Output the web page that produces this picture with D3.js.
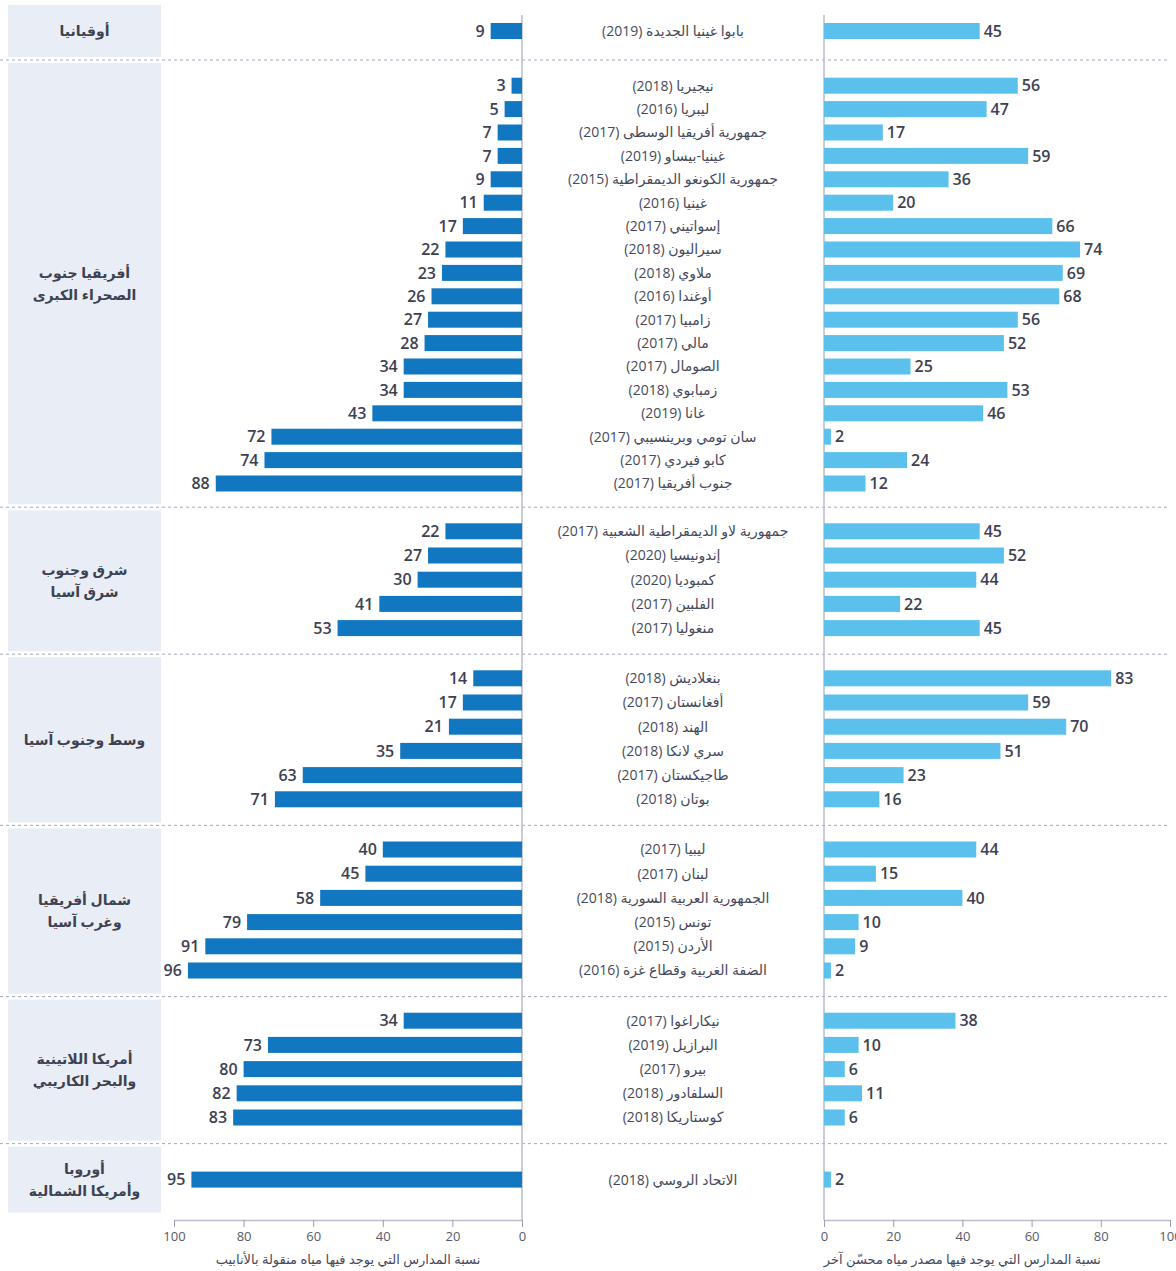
<!DOCTYPE html>
<html>
<head>
<meta charset="utf-8">
<script src="https://cdn.jsdelivr.net/npm/d3@7/dist/d3.min.js"></script>
<style>
  html, body { margin: 0; padding: 0; background: #ffffff; }
  svg { display: block; font-family: "Open Sans", "DejaVu Sans", sans-serif; }
</style>
</head>
<body>
<svg id="chart" width="1176" height="1271"></svg>
<script>
// ---------- DATA ----------
const regions = [
  "أوقيانيا",
  "أفريقيا جنوب\nالصحراء الكبرى",
  "شرق وجنوب\nشرق آسيا",
  "وسط وجنوب آسيا",
  "شمال أفريقيا\nوغرب آسيا",
  "أمريكا اللاتينية\nوالبحر الكاريبي",
  "أوروبا\nوأمريكا الشمالية"
];
const regionSizes = [1, 18, 5, 6, 6, 5, 1];

const countries = [
  "بابوا غينيا الجديدة (2019)",
  "نيجيريا (2018)", "ليبريا (2016)", "جمهورية أفريقيا الوسطى (2017)", "غينيا-بيساو (2019)",
  "جمهورية الكونغو الديمقراطية (2015)", "غينيا (2016)", "إسواتيني (2017)", "سيراليون (2018)",
  "ملاوي (2018)", "أوغندا (2016)", "زامبيا (2017)", "مالي (2017)", "الصومال (2017)",
  "زمبابوي (2018)", "غانا (2019)", "سان تومي وبرينسيبي (2017)", "كابو فيردي (2017)", "جنوب أفريقيا (2017)",
  "جمهورية لاو الديمقراطية الشعبية (2017)", "إندونيسيا (2020)", "كمبوديا (2020)", "الفلبين (2017)", "منغوليا (2017)",
  "بنغلاديش (2018)", "أفغانستان (2017)", "الهند (2018)", "سري لانكا (2018)", "طاجيكستان (2017)", "بوتان (2018)",
  "ليبيا (2017)", "لبنان (2017)", "الجمهورية العربية السورية (2018)", "تونس (2015)", "الأردن (2015)", "الضفة الغربية وقطاع غزة (2016)",
  "نيكاراغوا (2017)", "البرازيل (2019)", "بيرو (2017)", "السلفادور (2018)", "كوستاريكا (2018)",
  "الاتحاد الروسي (2018)"
];

// % of schools with piped water (left panel)
const pipedWater = [
  9,
  3, 5, 7, 7, 9, 11, 17, 22, 23, 26, 27, 28, 34, 34, 43, 72, 74, 88,
  22, 27, 30, 41, 53,
  14, 17, 21, 35, 63, 71,
  40, 45, 58, 79, 91, 96,
  34, 73, 80, 82, 83,
  95
];
// % of schools with another improved water source (right panel)
const otherImproved = [
  45,
  56, 47, 17, 59, 36, 20, 66, 74, 69, 68, 56, 52, 25, 53, 46, 2, 24, 12,
  45, 52, 44, 22, 45,
  83, 59, 70, 51, 23, 16,
  44, 15, 40, 10, 9, 2,
  38, 10, 6, 11, 6,
  2
];

const tickValues = [0, 20, 40, 60, 80, 100];
const leftTitle = "نسبة المدارس التي يوجد فيها مياه منقولة بالأنابيب";
const rightTitle = "نسبة المدارس التي يوجد فيها مصدر مياه محسّن آخر";

// ---------- LAYOUT ----------
const svg = d3.select("#chart");
const pad = 10, gap = 6, barH = 16;
const boxX = 8, boxW = 153;
const topY = 5;
const axisY = 1220;

const xL = d3.scaleLinear().domain([0, 100]).range([522, 174]);
const xR = d3.scaleLinear().domain([0, 100]).range([824, 1170]);

const colLeft = "#1177c0", colRight = "#5bc0eb", textCol = "#3d4152";

// compute groups (large groups are drawn slightly more compact)
const groups = [];
let yCur = topY, idx = 0;
regions.forEach((r, g) => {
  const n = regionSizes[g];
  const step = n > 10 ? 23.4 : 24.2;
  const lines = r.split("\n");
  const h = Math.max(n * step + 2 * pad, 38 + 14 * lines.length);
  const inner = (h - n * step) / 2;
  const shift = n === 1 ? 0 : (n > 10 ? 1 : -1);
  const rows = d3.range(n).map(i => ({
    i: idx + i,
    y: yCur + inner + step * (i + 0.5) + shift
  }));
  groups.push({ label: lines, top: yCur, h, rows });
  idx += n;
  yCur += h + gap;
});
const rowsAll = groups.flatMap(g => g.rows);

// region boxes
const gBox = svg.append("g");
groups.forEach(g => {
  gBox.append("rect")
    .attr("x", boxX).attr("y", g.top).attr("width", boxW).attr("height", g.h)
    .attr("fill", "#e9edf5");
  const cy = g.top + g.h / 2;
  const lh = 22;
  const t = gBox.append("text")
    .attr("text-anchor", "middle")
    .attr("direction", "rtl")
    .attr("font-size", 14).attr("font-weight", "bold").attr("fill", textCol);
  g.label.forEach((ln, k) => {
    t.append("tspan")
      .attr("x", boxX + boxW / 2)
      .attr("y", cy + (k - (g.label.length - 1) / 2) * lh)
      .attr("dy", "0.35em")
      .text(ln);
  });
});

// dashed separators
groups.slice(1).forEach(g => {
  svg.append("line")
    .attr("x1", 0).attr("x2", 1170)
    .attr("y1", g.top - gap / 2).attr("y2", g.top - gap / 2)
    .attr("stroke", "#a4a6bd").attr("stroke-width", 1)
    .attr("stroke-dasharray", "3,3");
});

// vertical baselines
[xL(0), xR(0)].forEach(x => {
  svg.append("line")
    .attr("x1", x).attr("x2", x).attr("y1", 15).attr("y2", axisY)
    .attr("stroke", "#b8bccd").attr("stroke-width", 1.5);
});

// left bars
svg.append("g").selectAll("rect").data(rowsAll).join("rect")
  .attr("x", d => xL(pipedWater[d.i]))
  .attr("y", d => d.y - barH / 2)
  .attr("width", d => xL(0) - xL(pipedWater[d.i]))
  .attr("height", barH)
  .attr("fill", colLeft);

svg.append("g").selectAll("text").data(rowsAll).join("text")
  .attr("x", d => xL(pipedWater[d.i]) - 6)
  .attr("y", d => d.y)
  .attr("dy", "0.35em")
  .attr("text-anchor", "end")
  .attr("font-size", 16).attr("font-weight", 600).attr("fill", textCol)
  .text(d => pipedWater[d.i]);

// right bars
svg.append("g").selectAll("rect").data(rowsAll).join("rect")
  .attr("x", xR(0))
  .attr("y", d => d.y - barH / 2)
  .attr("width", d => xR(otherImproved[d.i]) - xR(0))
  .attr("height", barH)
  .attr("fill", colRight);

svg.append("g").selectAll("text").data(rowsAll).join("text")
  .attr("x", d => xR(otherImproved[d.i]) + 4)
  .attr("y", d => d.y)
  .attr("dy", "0.35em")
  .attr("text-anchor", "start")
  .attr("font-size", 16).attr("font-weight", 600).attr("fill", textCol)
  .text(d => otherImproved[d.i]);

// country labels
svg.append("g").selectAll("text").data(rowsAll).join("text")
  .attr("x", (xL(0) + xR(0)) / 2)
  .attr("y", d => d.y)
  .attr("dy", "0.35em")
  .attr("text-anchor", "middle")
  .attr("direction", "rtl")
  .attr("font-size", 14).attr("fill", "#45495a")
  .text(d => countries[d.i]);

// axes
function styleAxis(g) {
  g.select(".domain").attr("stroke", "#b8bccd").attr("stroke-width", 1.5);
  g.selectAll(".tick line").attr("stroke", "#9a9db0");
  g.selectAll(".tick text").attr("fill", "#555a6a").attr("font-size", 13)
    .attr("font-family", "\"Open Sans\", \"DejaVu Sans\", sans-serif");
}
svg.append("g").attr("transform", `translate(0,${axisY})`)
  .call(d3.axisBottom(xL).tickValues(tickValues).tickSize(7).tickSizeOuter(0).tickPadding(5))
  .call(styleAxis);
svg.append("g").attr("transform", `translate(0,${axisY})`)
  .call(d3.axisBottom(xR).tickValues(tickValues).tickSize(7).tickSizeOuter(0).tickPadding(5))
  .call(styleAxis);

// axis titles
svg.append("text")
  .attr("x", xL(50)).attr("y", 1259).attr("dy", "0.35em")
  .attr("text-anchor", "middle").attr("direction", "rtl")
  .attr("font-size", 13).attr("fill", "#45495a")
  .text(leftTitle);
svg.append("text")
  .attr("x", xR(40)).attr("y", 1259).attr("dy", "0.35em")
  .attr("text-anchor", "middle").attr("direction", "rtl")
  .attr("font-size", 13).attr("fill", "#45495a")
  .text(rightTitle);
</script>
</body>
</html>
